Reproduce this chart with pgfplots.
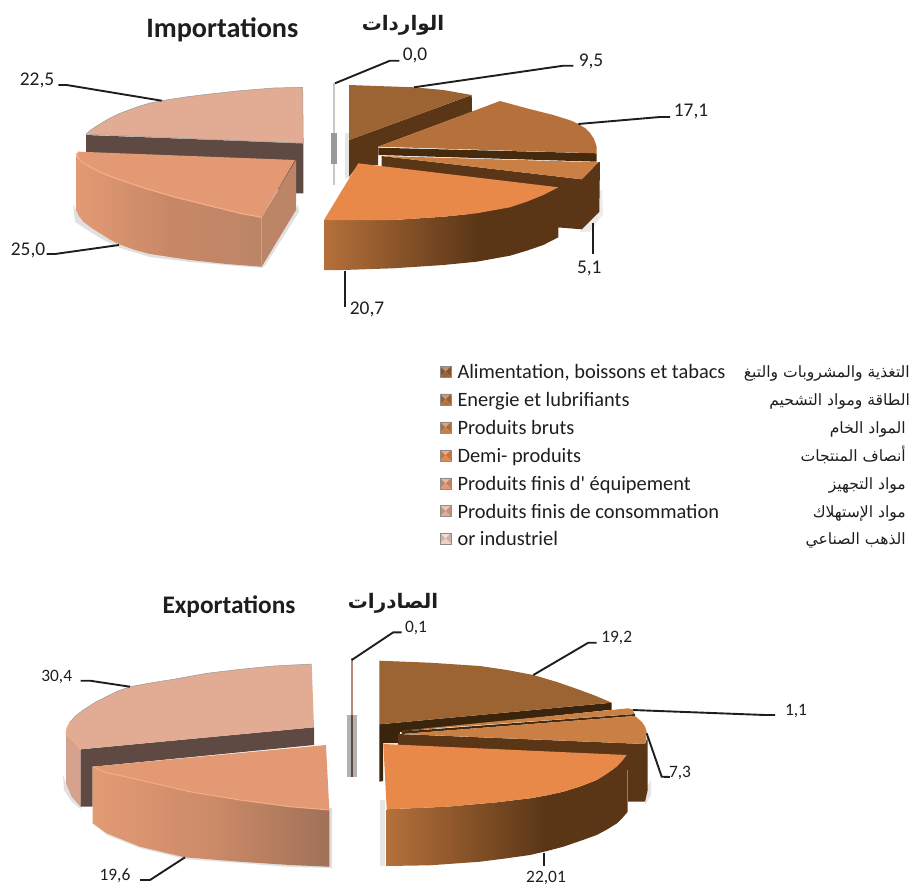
\documentclass[border=0pt]{standalone}
\usepackage{pgfplots}
\pgfplotsset{compat=1.18}
\usepackage{fontspec}
\setmainfont[Ligatures=TeXOff]{Carlito}
\newfontfamily\arabicfont[Script=Arabic]{DejaVu Sans}
\TeXXeTstate=1

\definecolor{cAlim}{HTML}{9C6333}
\definecolor{cEner}{HTML}{B5703B}
\definecolor{cBrut}{HTML}{CA7F45}
\definecolor{cDemi}{HTML}{E8894A}
\definecolor{cEqui}{HTML}{E39A74}
\definecolor{cCons}{HTML}{E2AB94}
\definecolor{cGold}{HTML}{EFD0C4}
\definecolor{cRim}{HTML}{F3AE86}
\definecolor{cDark}{HTML}{5A3616}
\definecolor{cDarker}{HTML}{452A0E}
\definecolor{cGrey}{HTML}{5E4A42}
\definecolor{cSide}{HTML}{BC8567}
\definecolor{cInk}{HTML}{1E1E1E}

\pgfdeclarehorizontalshading{wallpink}{100bp}{color(0bp)=(cEqui); color(25bp)=(cEqui); color(50bp)=(cEqui!88!black); color(75bp)=(cSide); color(100bp)=(cSide)}
\pgfdeclarehorizontalshading{wallpinkb}{100bp}{color(0bp)=(cEqui); color(25bp)=(cEqui); color(50bp)=(cEqui!90!black); color(75bp)=(cSide!85!black); color(100bp)=(cSide!85!black)}
\pgfdeclarehorizontalshading{wallbrown}{100bp}{color(0bp)=(cEner); color(25bp)=(cEner); color(58bp)=(cDark); color(100bp)=(cDark)}

% legend key: a small bevelled square
\def\bevelcol{cAlim}
\pgfdeclareplotmark{bevel}{%
  \pgfsetlinewidth{0pt}%
  \pgfsetfillcolor{\bevelcol!70!white}%
  \pgfpathmoveto{\pgfqpoint{-5.5pt}{5.5pt}}\pgfpathlineto{\pgfqpoint{5.5pt}{5.5pt}}\pgfpathlineto{\pgfqpoint{0pt}{0pt}}\pgfpathclose\pgfusepathqfill
  \pgfsetfillcolor{\bevelcol!85!black}%
  \pgfpathmoveto{\pgfqpoint{-5.5pt}{5.5pt}}\pgfpathlineto{\pgfqpoint{-5.5pt}{-5.5pt}}\pgfpathlineto{\pgfqpoint{0pt}{0pt}}\pgfpathclose\pgfusepathqfill
  \pgfpathmoveto{\pgfqpoint{5.5pt}{5.5pt}}\pgfpathlineto{\pgfqpoint{5.5pt}{-5.5pt}}\pgfpathlineto{\pgfqpoint{0pt}{0pt}}\pgfpathclose\pgfusepathqfill
  \pgfsetfillcolor{\bevelcol}%
  \pgfpathmoveto{\pgfqpoint{-5.5pt}{-5.5pt}}\pgfpathlineto{\pgfqpoint{5.5pt}{-5.5pt}}\pgfpathlineto{\pgfqpoint{0pt}{0pt}}\pgfpathclose\pgfusepathqfill
  \pgfsetstrokecolor{black!45}\pgfsetlinewidth{.6pt}%
  \pgfpathrectanglecorners{\pgfqpoint{-5.5pt}{-5.5pt}}{\pgfqpoint{5.5pt}{5.5pt}}\pgfusepathqstroke
}

\tikzset{
  face/.style={draw=none,fill=#1},
  lead/.style={draw=cInk,line width=1.9pt},
  key mark/.style={only marks,mark=bevel,mark options={/utils/exec={\def\bevelcol{#1}}}},
  val/.style={font=\fontsize{19.4}{19.4}\selectfont,text=cInk,inner sep=0pt},
  valb/.style={font=\fontsize{17.4}{17.4}\selectfont,text=cInk,inner sep=0pt},
  key/.style={font=\fontsize{20.4}{20.4}\selectfont,text=cInk,anchor=base west,inner sep=0pt},
  ara/.style={font=\fontsize{15.6}{15.6}\selectfont\arabicfont,text=cInk,anchor=base east,inner sep=0pt},
}

\begin{document}
\begin{tikzpicture}
\begin{axis}[
    scale only axis,
    width=912pt,height=886pt,
    xmin=0,xmax=912,ymin=0,ymax=886,
    y dir=reverse,
    hide axis,
]
% page frame, keeps the picture at full size
\addplot[draw=none] coordinates {(0,0)(912,886)};
% ---- Importations
% soft shadows
\addplot[face=black!12] coordinates {(73,204)(75,222)(100,238)(120,248)(150,257)(190,262)(262,268)(266,264)(299,212)(298,205)(262,262)(76,210)} --cycle;
\addplot[face=black!8] coordinates {(596,190)(602,190)(603,214)(590,232)(580,232)} --cycle;
\addplot[face=black!10] coordinates {(345,133)(349,133)(349,178)(345,178)} --cycle;
% 0,0 sliver
\addplot[draw=black!22,line width=1.6pt] coordinates {(334,83)(334,185)};
\addplot[face=black!40] coordinates {(331,133)(337,133)(337,164)(331,164)} --cycle;
% 22,5
\addplot[face=cGrey] coordinates {(86,135)(303.3,143.3)(303.3,193.3)(296.7,193.3)(86,153.3)} --cycle;
\addplot[fill=cCons,draw=black!40,line width=.5pt] coordinates {(302.7,87.3)(273.3,88)(240,90.7)(206.7,94.3)(183.3,97.3)(161.7,100.7)(150,103)(140,106)(130,109.5)(120,113.3)(110,118)(103.3,122)(96,126.5)(90,130.5)(86,134.3)(303.3,143.3)} --cycle;
% 25,0
\addplot[face=cSide] coordinates {(261.7,217.3)(296,160)(296,210)(261.7,266.7)} --cycle;
\addplot[shading=wallpink,draw=none] coordinates {(76,156)(76,210)(79,216)(83.3,221.7)(91,227.5)(100,233.3)(110,239.5)(120,244.5)(135,250)(150,254)(190,260)(226.7,264)(261.7,266.7)(261.7,217.3)(240,213.3)(206.7,205)(173.3,196.7)(140,186.7)(106.7,175)(96,170)(86.7,165)(81,161)(77.5,157)} --cycle;
\addplot[face=cEqui] coordinates {(79.3,151.7)(295,160)(261.7,217.3)(240,213.3)(206.7,205)(173.3,196.7)(140,186.7)(106.7,175)(96,170)(86.7,165)(81,161)(77.5,157)(76.7,154)} --cycle;
\addplot[draw=cRim,line width=1.2pt] coordinates {(261.7,217.3)(240,213.3)(206.7,205)(173.3,196.7)(140,186.7)(106.7,175)(96,170)(86.7,165)(81,161)(77.5,157)(76.7,154)(79.3,151.7)};
% 9,5
\addplot[face=cDark] coordinates {(349,140)(471.7,95)(472,111.7)(378,146.7)(378,165)(358,165)(349,177)} --cycle;
\addplot[face=cAlim] coordinates {(349,85)(376.7,86)(414,87.3)(443.3,90)(471.7,95)(349,140)} --cycle;
% 17,1
\addplot[face=cDarker] coordinates {(378.3,147.7)(596.7,153.3)(596.7,161.7)(378.3,155)} --cycle;
\addplot[face=cEner] coordinates {(378.3,146.7)(500,101)(526.7,108.3)(553.3,115)(566,119)(572,121)(578.3,124)(585,128)(590,133)(594,139)(596.5,146)(596.7,153.3)} --cycle;
% 5,1
\addplot[face=cDark] coordinates {(381.7,156)(581.7,179.3)(598.3,162.3)(600,162)(599.3,211.7)(581.7,229.3)(540,226)(381.7,200)} --cycle;
\addplot[face=cBrut] coordinates {(381.7,156)(598.3,162.3)(581.7,179.3)} --cycle;
% 20,7
\addplot[shading=wallbrown,draw=none] coordinates {(324,220)(393.3,220)(443.3,216.7)(476.7,213.3)(510,207.3)(526.7,201.7)(543.3,195)(558.3,187.3)(558.3,237.3)(543.3,245)(526.7,250.7)(510,255.7)(476.7,261.7)(443.3,265)(393.3,268.3)(343.3,270)(324,270)} --cycle;
\addplot[face=cDemi] coordinates {(358.3,163.3)(558.3,187.3)(543.3,195)(526.7,201.7)(510,207.3)(476.7,213.3)(443.3,216.7)(393.3,220)(324,220)} --cycle;
% leaders
\addplot[lead] coordinates {(335,83.3)(390,60.7)(399.3,60.7)};
\addplot[lead] coordinates {(414,87.3)(563.3,65.7)(573.3,65.7)};
\addplot[lead] coordinates {(578.3,124)(660,117)(670,117)};
\addplot[lead] coordinates {(593.3,222.7)(593.3,254)};
\addplot[lead] coordinates {(344.7,270.7)(344.7,306.7)};
\addplot[lead] coordinates {(161.7,100.7)(66.7,85)(58.3,85)};
\addplot[lead] coordinates {(119,245)(55,254)(46.7,254)};
\node[val] at (axis cs:415,55) {0,0};
\node[val] at (axis cs:591,61) {9,5};
\node[val] at (axis cs:691,111) {17,1};
\node[val] at (axis cs:589.3,268) {5,1};
\node[val] at (axis cs:367,309) {20,7};
\node[val] at (axis cs:37,80) {22,5};
\node[val] at (axis cs:28,250) {25,0};
\node[font=\fontsize{28.2}{28.2}\selectfont\bfseries,text=cInk,inner sep=0pt] at (axis cs:222.3,29.5) {Importations};
\node[font=\fontsize{20}{20}\selectfont\arabicfont\bfseries,text=cInk,inner sep=0pt] at (axis cs:403,25) {\beginR الواردات\endR};

% ---- legend
\addplot[key mark=cAlim] coordinates {(445.5,371.7)};
\addplot[key mark=cEner] coordinates {(445.5,399.3)};
\addplot[key mark=cBrut] coordinates {(445.5,427.3)};
\addplot[key mark=cDemi] coordinates {(445.5,455.3)};
\addplot[key mark=cEqui] coordinates {(445.5,483.3)};
\addplot[key mark=cCons] coordinates {(445.5,511)};
\addplot[key mark=cGold] coordinates {(445.5,538.3)};
\node[key] at (axis cs:457.3,378) {Alimentation, boissons et tabacs};
\node[key] at (axis cs:457.3,406) {Energie et lubrifiants};
\node[key] at (axis cs:457.3,434) {Produits bruts};
\node[key] at (axis cs:457.3,462) {Demi- produits};
\node[key] at (axis cs:457.3,490) {Produits finis d' équipement};
\node[key] at (axis cs:457.3,518) {Produits finis de consommation};
\node[key] at (axis cs:457.3,545) {or industriel};
\node[ara] at (axis cs:910,377) {\beginR التغذية والمشروبات والتبغ\endR};
\node[ara] at (axis cs:910,405) {\beginR الطاقة ومواد التشحيم\endR};
\node[ara] at (axis cs:906,433) {\beginR المواد الخام\endR};
\node[ara] at (axis cs:906,461) {\beginR أنصاف المنتجات\endR};
\node[ara] at (axis cs:906,489) {\beginR مواد التجهيز\endR};
\node[ara] at (axis cs:906,517) {\beginR مواد الإستهلاك\endR};
\node[ara] at (axis cs:906,544) {\beginR الذهب الصناعي\endR};

% ---- Exportations
\addplot[face=black!12] coordinates {(63,775)(64,790)(72,802)(81,809)(81,806)(66,783)} --cycle;
\addplot[face=black!12] coordinates {(91,822)(107,835)(140,848)(185,859)(240,863)(290,867)(332,868)(332,808)(329,808)(329,866)(185,857)(107,833)} --cycle;
\addplot[face=black!10] coordinates {(645,790)(651,780)(651,795)(645,805)} --cycle;
\addplot[face=black!30] coordinates {(347,715)(357,715)(357,777)(347,777)} --cycle;
\addplot[face=black!10] coordinates {(380,800)(385,800)(385,866)(380,866)} --cycle;
% 0,1 sliver
\addplot[draw=cCons!80!black,line width=1.6pt] coordinates {(351.7,658.3)(351.7,715)};
\addplot[draw=cGrey,line width=1.6pt] coordinates {(351.7,715)(351.7,776.7)};
% 30,4
\addplot[face=cCons!95!black] coordinates {(66,733.3)(80.7,749.3)(80.7,806.7)(71.7,796.7)(66,783.3)} --cycle;
\addplot[face=cGrey] coordinates {(80.7,749.3)(314,727.3)(314,745)(92.7,766.7)(92.7,806.7)(80.7,806.7)} --cycle;
\addplot[fill=cCons,draw=none] coordinates {(311.7,664)(273.3,666)(240,669.3)(206.7,673.3)(173.3,679.3)(150,683)(130,686.7)(118,691)(106.7,696.5)(95,702.5)(83.3,710)(75.5,716)(70,722)(67,728)(66,733.3)(80.7,749.3)(314,727.3)} --cycle;
\addplot[draw=black!40,line width=.5pt] coordinates {(311.7,664)(273.3,666)(240,669.3)(206.7,673.3)(173.3,679.3)(150,683)(130,686.7)(118,691)(106.7,696.5)(95,702.5)(83.3,710)(75.5,716)(70,722)};
\addplot[draw=cRim,line width=1pt] coordinates {(70,722)(67,728)(66,733.3)(80.7,749.3)};
% 19,6
\addplot[shading=wallpinkb,draw=none] coordinates {(92.7,766.7)(106.7,772.7)(140,780)(190,791.7)(240,800)(290,806.7)(329.3,810)(329.3,866.7)(290,865)(240,861.7)(185,857.3)(140,846.7)(106.7,833.3)(92.7,823.3)} --cycle;
\addplot[face=cEqui] coordinates {(92.7,766.7)(326,745)(329.3,810)(290,806.7)(240,800)(190,791.7)(140,780)(106.7,772.7)} --cycle;
\addplot[draw=cRim,line width=1pt] coordinates {(92.7,766.7)(106.7,772.7)(140,780)(190,791.7)(240,800)(290,806.7)(329.3,810)};
% 19,2
\addplot[face=cDarker!85!black] coordinates {(379.3,724.3)(611.7,702.7)(611.7,709.7)(400,732)(398,743)(383,743)(383,781)(379.3,781.7)} --cycle;
\addplot[face=cAlim] coordinates {(379.3,660.7)(430,662.7)(480,666)(507,670)(533.3,675)(557,682)(580,690)(596,696)(611.7,702.7)(379.3,724.3)} --cycle;
% 1,1
\addplot[face=cDarker] coordinates {(401.7,731.5)(635,714)(635,716)(401.7,734)} --cycle;
\addplot[face=cBrut] coordinates {(401.7,730.7)(628.3,708.3)(631.7,709.3)(635,714)} --cycle;
% 7,3
\addplot[face=cDark] coordinates {(398,734)(645,744)(647.7,737)(647.7,790)(645,801.7)(628,801.7)(628,770)(398,745)} --cycle;
\addplot[face=cBrut] coordinates {(401.7,734)(635,716)(641.7,721.7)(645,726.5)(646.7,731.7)(646.3,738)(645,744)} --cycle;
% 22,01
\addplot[shading=wallbrown,draw=none] coordinates {(386.7,809.3)(446.7,806.7)(496.7,802.3)(530,798.3)(547,795.3)(563.3,791.7)(580,786.5)(596.7,780)(607,773.5)(616.7,766.7)(622,761)(627.7,755)(627.7,811.7)(622,818.5)(616.7,823.5)(607,829.5)(596.7,835)(580,841)(563.3,846.7)(547,851)(530,855)(505,858.5)(480,861.7)(430,865.3)(386.7,866)} --cycle;
\addplot[face=cDemi] coordinates {(383.3,744)(626.7,755)(622,761)(616.7,766.7)(607,773.5)(596.7,780)(580,786.5)(563.3,791.7)(547,795.3)(530,798.3)(496.7,802.3)(446.7,806.7)(386.7,809.3)} --cycle;
% leaders
\addplot[lead] coordinates {(351.7,660)(393.3,632.3)(401.7,632.3)};
\addplot[lead] coordinates {(533.3,675)(588.3,642.7)(596.7,642.7)};
\addplot[lead] coordinates {(632.7,710)(765,715)(775,715)};
\addplot[lead] coordinates {(646.7,733.3)(661.7,776.7)(670,777)};
\addplot[lead] coordinates {(544,853.3)(544,866)};
\addplot[lead] coordinates {(130,686.7)(90,680.7)(80.7,680.7)};
\addplot[lead] coordinates {(185,857.3)(150,880)(140,880)};
\node[valb] at (axis cs:416,627.7) {0,1};
\node[valb] at (axis cs:616.7,638.3) {19,2};
\node[valb] at (axis cs:796,711) {1,1};
\node[valb] at (axis cs:680,773) {7,3};
\node[valb] at (axis cs:546,878) {22,01};
\node[valb] at (axis cs:56.7,677.3) {30,4};
\node[valb] at (axis cs:115,876) {19,6};
\node[font=\fontsize{25.3}{25.3}\selectfont\bfseries,text=cInk,inner sep=0pt] at (axis cs:229,606.5) {Exportations};
\node[font=\fontsize{20}{20}\selectfont\arabicfont\bfseries,text=cInk,inner sep=0pt] at (axis cs:393,603) {\beginR الصادرات\endR};
\end{axis}
\end{tikzpicture}
\end{document}
